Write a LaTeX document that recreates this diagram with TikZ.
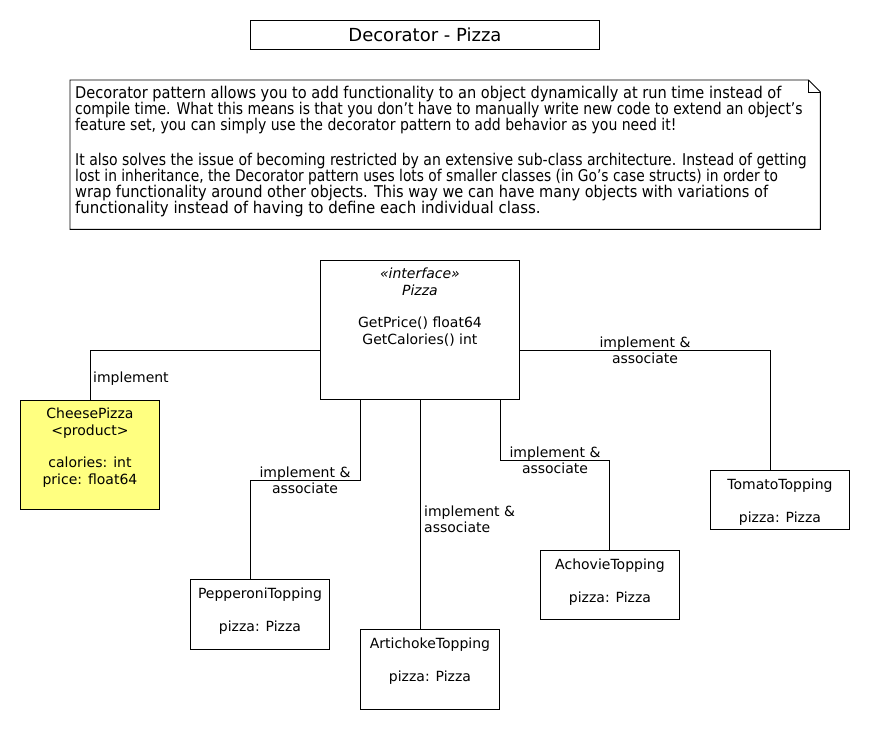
\documentclass[tikz,border=0pt]{standalone}
\usepackage{graphicx}
\usepackage{fontspec}
\setmainfont{DejaVu Sans}
\newfontfamily\condfont{DejaVu Sans Condensed}
\definecolor{cheesey}{RGB}{255,255,128}
\begin{document}
\begin{tikzpicture}[x=1pt,y=-1pt,
  box/.style={draw, line width=0.9pt, rectangle, inner sep=0pt, anchor=north west},
  txt/.style={inner sep=0pt, align=center, font=\fontsize{14}{16.3}\selectfont},
  lbl/.style={inner sep=0pt, align=center, font=\fontsize{14}{16.3}\selectfont},
  conn/.style={draw, line width=0.9pt}]
\useasboundingbox (0,0) rectangle (870,730);

% title
\node[box, minimum width=349pt, minimum height=29pt] (title) at (250,20) {};
\node[txt, font=\fontsize{18}{20}\selectfont] (titletext) at (title.center) {Decorator - Pizza};

% note
\node[inner sep=0pt, anchor=north west, minimum width=750pt, minimum height=149pt] (note) at (70,80) {};
\draw[line width=0.9pt] (note.north west) -- ([xshift=-12pt]note.north east) -- ([yshift=-12pt]note.north east) -- (note.south east) -- (note.south west) -- cycle;
\draw[line width=0.9pt] ([xshift=-12pt]note.north east) -- ([xshift=-12pt,yshift=-12pt]note.north east) -- ([yshift=-12pt]note.north east);
\node[inner sep=0pt, anchor=north west, align=left, font=\condfont\fontsize{16.2}{16}\selectfont] (notetext) at (75,86) {%
\scalebox{1.0}[1]{Decorator pattern allows you to add functionality to an object dynamically at run time instead of}\\
\scalebox{0.958}[1]{compile time. What this means is that you don’t have to manually write new code to extend an object’s}\\
\scalebox{0.962}[1]{feature set, you can simply use the decorator pattern to add behavior as you need it!}\\[18.5pt]
\scalebox{0.962}[1]{It also solves the issue of becoming restricted by an extensive sub-class architecture. Instead of getting}\\
\scalebox{0.946}[1]{lost in inheritance, the Decorator pattern uses lots of smaller classes (in Go’s case structs) in order to}\\
\scalebox{1.0}[1]{wrap functionality around other objects. This way we can have many objects with variations of}\\
\scalebox{1.03}[1]{functionality instead of having to define each individual class.}};

% interface
\node[box, minimum width=199pt, minimum height=139pt] (iface) at (320,260) {};
\node[txt, anchor=north] (ifacetext) at ([yshift=-8pt]iface.north) {\itshape «interface»\\\itshape Pizza\\[16.3pt]GetPrice() float64\\GetCalories() int};

% cheese pizza
\node[box, fill=cheesey, minimum width=139pt, minimum height=109pt] (cheese) at (20,400) {};
\node[txt, anchor=north] (cheesetext) at ([yshift=-8pt]cheese.north) {CheesePizza\\<product>\\[16.3pt]calories: int\\price: float64};

% toppings
\node[box, minimum width=139pt, minimum height=70pt] (pep) at (190,579) {};
\node[txt, anchor=north] (peptext) at ([yshift=-9pt]pep.north) {PepperoniTopping\\[16pt]pizza: Pizza};
\node[box, minimum width=139pt, minimum height=80pt] (art) at (360,629) {};
\node[txt, anchor=north] (arttext) at ([yshift=-9pt]art.north) {ArtichokeTopping\\[16pt]pizza: Pizza};
\node[box, minimum width=139pt, minimum height=69pt] (ach) at (540,550) {};
\node[txt, anchor=north] (achtext) at ([yshift=-9pt]ach.north) {AchovieTopping\\[16pt]pizza: Pizza};
\node[box, minimum width=139pt, minimum height=59pt] (tom) at (710,470) {};
\node[txt, anchor=north] (tomtext) at ([yshift=-9pt]tom.north) {TomatoTopping\\[16pt]pizza: Pizza};

% connectors
\draw[conn] ([yshift=-20.5pt]iface.west) -| ([xshift=70pt]cheese.north west);
\draw[conn] ([xshift=40pt]iface.south west) -- ++(0,81) -| ([xshift=60pt]pep.north west);
\draw[conn] ([xshift=100pt]iface.south west) -- ([xshift=60pt]art.north west);
\draw[conn] ([xshift=180pt]iface.south west) -- ++(0,61) -| ([xshift=69pt]ach.north west);
\draw[conn] ([yshift=-20.5pt]iface.east) -| ([xshift=60pt]tom.north west);

% labels
\node[lbl, anchor=west] (l1) at (93,379) {implement};
\node[lbl] (l2) at (305,480) {implement \&\\associate};
\node[lbl, anchor=west, align=left] (l3) at (424,519) {implement \&\\associate};
\node[lbl] (l4) at (555,460) {implement \&\\associate};
\node[lbl] (l5) at (645,350) {implement \&\\associate};
\end{tikzpicture}
\end{document}
